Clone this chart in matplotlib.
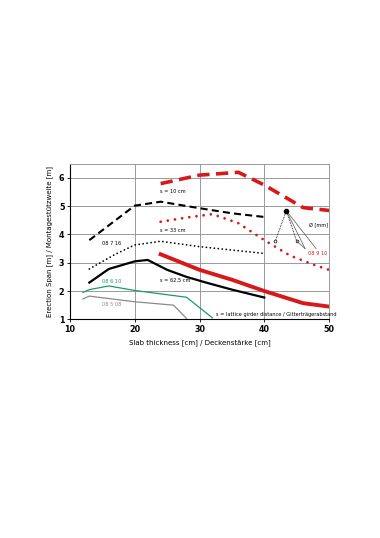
import matplotlib
matplotlib.use('Agg')
import matplotlib.pyplot as plt

# data
red_dash_x = [24, 30, 36, 40, 46, 50]
red_dash_y = [5.8, 6.1, 6.2, 5.75, 4.95, 4.85]

red_dot_x = [24, 28, 32, 36, 40, 44, 48, 50]
red_dot_y = [4.45, 4.6, 4.72, 4.4, 3.8, 3.25, 2.9, 2.75]

red_solid_x = [24, 30, 35, 40, 46, 50]
red_solid_y = [3.3, 2.75, 2.4, 2.0, 1.57, 1.45]

blk_dash_x = [13, 20, 24, 30, 35, 40]
blk_dash_y = [3.8, 5.02, 5.16, 4.93, 4.75, 4.62]

blk_dot_x = [13, 17, 20, 24, 30, 40]
blk_dot_y = [2.78, 3.3, 3.63, 3.76, 3.57, 3.33]

blk_solid_x = [13, 16, 20, 22, 25, 28, 31, 35, 40]
blk_solid_y = [2.3, 2.78, 3.05, 3.1, 2.75, 2.5, 2.3, 2.05, 1.77]

green_x = [12, 13, 16, 20, 28, 32]
green_y = [1.95, 2.05, 2.18, 2.02, 1.78, 1.05]

gray_x = [12, 13, 20, 26, 28]
gray_y = [1.72, 1.82, 1.62, 1.5, 1.03]

# little "diameter" key glyph
key_top = (43.4, 4.84)
key_dot_ends = [(41.7, 3.77), (45.0, 3.77)]
key_line_ends = [(46.3, 3.5), (48.0, 3.5)]

red = '#d7191c'
green = '#1a9a6c'

fig = plt.figure(figsize=(3.8, 5.38), dpi=100)
ax = fig.add_axes([0.184, 0.4065, 0.682, 0.289])

ax.plot(red_dash_x, red_dash_y, color=red, lw=2.6, dashes=(3.4, 1.8))
ax.plot(red_dot_x, red_dot_y, color=red, lw=2.0, ls=(0, (0.01, 2.6)), dash_capstyle='round')
ax.plot(red_solid_x, red_solid_y, color=red, lw=2.8)
ax.plot(blk_dash_x, blk_dash_y, color='black', lw=1.5, dashes=(3.4, 2))
ax.plot(blk_dot_x, blk_dot_y, color='black', lw=1.3, ls=(0, (0.01, 2.2)), dash_capstyle='round')
ax.plot(blk_solid_x, blk_solid_y, color='black', lw=1.6)
ax.plot(green_x, green_y, color=green, lw=0.9)
ax.plot(gray_x, gray_y, color='#8a8a8a', lw=0.9)

# key glyph
for ex, ey in key_dot_ends:
    ax.plot([key_top[0], ex], [key_top[1], ey], color='black', lw=0.6, ls=(0, (1, 1)))
    ax.plot(ex, ey, marker='o', ms=2, mfc='white', mec='black', mew=0.5)
for ex, ey in key_line_ends:
    ax.plot([key_top[0], ex], [key_top[1], ey], color='#555555', lw=0.5)
ax.plot([key_dot_ends[1][0], key_line_ends[0][0]], [key_dot_ends[1][1], key_line_ends[0][1]],
        color='#555555', lw=0.5)
ax.plot(*key_top, marker='o', ms=3, color='black')

fs = 3.6
ax.text(23.9, 5.51, 's = 10 cm', fontsize=fs, va='center')
ax.text(23.9, 4.13, 's = 33 cm', fontsize=fs, va='center')
ax.text(23.9, 2.37, 's = 62,5 cm', fontsize=fs, va='center')
ax.text(15.0, 3.69, '08 7 16', fontsize=fs, va='center')
ax.text(15.0, 2.33, '08 6 10', fontsize=fs, va='center', color=green)
ax.text(15.0, 1.51, '08 5 08', fontsize=fs, va='center', color='#8a8a8a')
ax.text(32.6, 1.16, 's = lattice girder distance / Gitterträgerabstand', fontsize=fs, va='center')
ax.text(46.9, 4.34, 'Ø [mm]', fontsize=fs, va='center')
ax.text(46.8, 3.33, '08 9 10', fontsize=fs, va='center', color=red)

ax.set_xlim(10, 50)
ax.set_ylim(1, 6.5)
ax.set_xticks([10, 20, 30, 40, 50])
ax.set_yticks([1, 2, 3, 4, 5, 6])
ax.grid(True, color='#9a9a9a', lw=0.7)
ax.tick_params(labelsize=5.8, length=2, width=0.6, pad=2)
for lab in ax.get_xticklabels() + ax.get_yticklabels():
    lab.set_fontweight('bold')
for side in ['top', 'right']:
    ax.spines[side].set_color('#9a9a9a')
    ax.spines[side].set_linewidth(0.7)
for side in ['left', 'bottom']:
    ax.spines[side].set_linewidth(0.8)

ax.set_xlabel('Slab thickness [cm] / Deckenstärke [cm]', fontsize=5, labelpad=4)
ax.set_ylabel('Erection Span [m] / Montagestützweite [m]', fontsize=5, labelpad=4)

fig.savefig('out.png', dpi=100)
